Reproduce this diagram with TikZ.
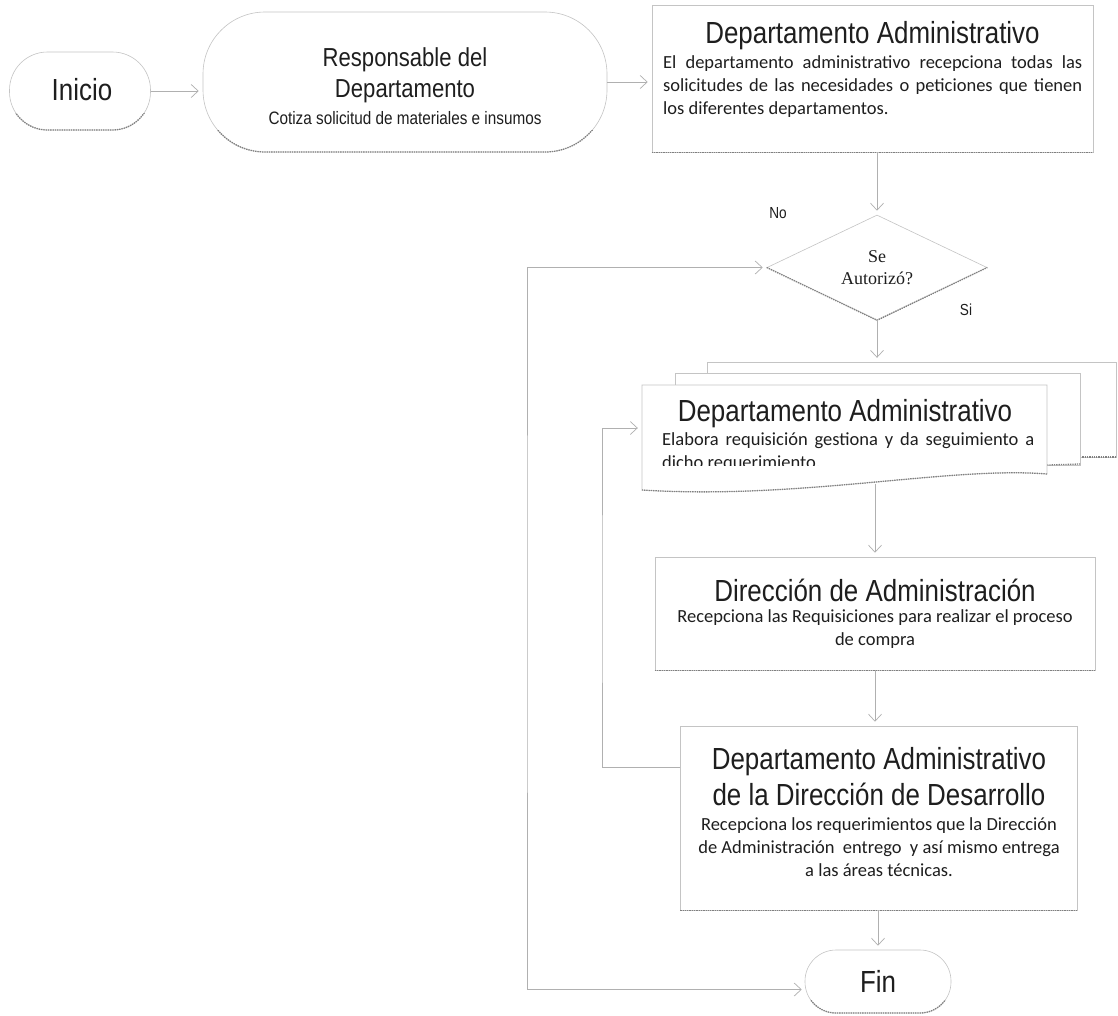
\documentclass[tikz,border=0pt]{standalone}
\usepackage{fontspec}
\setmainfont{Carlito}
\newfontfamily\narrowfont[FakeStretch=0.85]{Liberation Sans}
\newfontfamily\timesfont{Liberation Serif}
\newfontfamily\bodyfont{Carlito}
\usetikzlibrary{arrows.meta,shapes.geometric}
\definecolor{linec}{HTML}{B0B0B0}
\definecolor{edgec}{HTML}{C4C4C4}
\definecolor{shadec}{HTML}{808080}
\definecolor{txt}{HTML}{1E1E1E}
\begin{document}
\begin{tikzpicture}[x=1pt,y=-1pt,
  conn/.style={draw=linec, line width=0.7pt, -{Straight Barb[length=7pt,width=13pt]}, shorten >=4pt},
  connboth/.style={draw=linec, line width=0.7pt, {Straight Barb[length=7pt,width=13pt]}-{Straight Barb[length=7pt,width=13pt]}, shorten >=3pt, shorten <=4pt},
  shapebox/.style={draw=edgec, line width=0.6pt, fill=white, inner sep=0pt},
  ghost/.style={draw=none, inner sep=0pt},
  shadeline/.style={draw=shadec, line width=1.3pt, densely dotted},
  ttl/.style={font=\narrowfont\fontsize{30.5}{34}\selectfont, text=txt, inner sep=0pt},
  ttlm/.style={font=\narrowfont\fontsize{26}{30}\selectfont, text=txt, inner sep=0pt},
  ttls/.style={font=\narrowfont\fontsize{18}{21}\selectfont, text=txt, inner sep=0pt},
  lbl/.style={font=\narrowfont\fontsize{16}{19}\selectfont, text=txt, inner sep=0pt},
  dtx/.style={font=\timesfont\fontsize{18}{21}\selectfont, text=txt, inner sep=0pt},
  bdy/.style={font=\bodyfont\fontsize{18.5}{23}\selectfont, text=txt, inner sep=0pt}
]
\path[use as bounding box, fill=white] (0,0) rectangle (1118,1015);

% ---------- Inicio ----------
\node[shapebox, rounded corners=38pt, minimum width=141pt, minimum height=78pt] (inicio) at (80,91) {};
\begin{scope}
  \clip (0,113) rectangle (200,140);
  \draw[shadeline, rounded corners=38pt] (9.5,52) rectangle (150.5,130);
\end{scope}
\node[ttl, anchor=base] (inicioT) at (82,100) {Inicio};

% ---------- Responsable ----------
\node[shapebox, rounded corners=62pt, minimum width=404pt, minimum height=140pt] (resp) at (405,82) {};
\begin{scope}
  \clip (150,130) rectangle (660,170);
  \draw[shadeline, rounded corners=62pt] (203,12) rectangle (607,152);
\end{scope}
\node[ttlm, anchor=base] (respT1) at (405,66) {Responsable del};
\node[ttlm, anchor=base] (respT2) at (405,97) {Departamento};
\node[ttls, anchor=base] (respT3) at (405,124) {Cotiza solicitud de materiales e insumos};

% ---------- Departamento Administrativo 1 ----------
\node[shapebox, minimum width=441pt, minimum height=147pt] (da1) at (872.5,78.5) {};
\draw[shadeline] (da1.south west) -- (da1.south east);
\node[ttl, anchor=base] (da1T) at (872.5,43) {Departamento Administrativo};
\node[bdy, anchor=base west] (da1L1) at (663,68) {\makebox[419pt][s]{El departamento administrativo recepciona todas las}};
\node[bdy, anchor=base west] (da1L2) at (663,91) {\makebox[419pt][s]{solicitudes de las necesidades o peticiones que tienen}};
\node[bdy, anchor=base west] (da1L3) at (663,114) {los diferentes departamentos.};

% ---------- Decision ----------
\node[diamond, shapebox, minimum width=220pt, minimum height=105pt] (dia) at (877,267.5) {};
\draw[shadeline] (dia.west) -- (dia.south) -- (dia.east);
\node[dtx, anchor=base] (diaT1) at (877,262) {Se};
\node[dtx, anchor=base] (diaT2) at (877,284) {Autorizó?};
\node[lbl, anchor=base] (noL) at (778,218) {No};
\node[lbl, anchor=base] (siL) at (966,315) {Si};

% ---------- Multi-document ----------
\node[ghost, minimum width=409pt, minimum height=95pt] (docb) at (911.5,409.5) {};
\node[ghost, minimum width=405pt, minimum height=93pt] (docm) at (877.5,419.5) {};
\node[ghost, minimum width=405pt, minimum height=100pt] (docf) at (844.5,435) {};
\draw[shapebox] (707,362) -- (1116,362) -- (1116,457) -- (707,457) -- cycle;
\draw[shadeline] (1080,457) -- (1116,457);
\draw[shapebox] (675,373) -- (1080,373) -- (1080,465) -- (675,465) -- cycle;
\draw[shadeline] (1047,465) -- (1080,464);
\draw[shapebox] (642,385) -- (1047,385) -- (1047,474) .. controls (950,466) and (800,500) .. (642,490) -- cycle;
\draw[shadeline] (1047,474) .. controls (950,466) and (800,500) .. (642,490);
\node[ttl, anchor=base] (docT) at (845,421) {Departamento Administrativo};
\node[bdy, anchor=base west] (docL1) at (662,445) {\makebox[372pt][s]{Elabora requisición gestiona y da seguimiento a}};
\begin{scope}
  \clip (642,440) rectangle (1047,465);
  \node[bdy, anchor=base west] (docL2) at (662,468) {dicho requerimiento.};
\end{scope}

% ---------- Dirección de Administración ----------
\node[shapebox, minimum width=440pt, minimum height=113pt] (dir) at (875,613.5) {};
\draw[shadeline] (dir.south west) -- (dir.south east);
\node[ttl, anchor=base] (dirT) at (875,601) {Dirección de Administración};
\node[bdy, anchor=base] (dirL1) at (875,622) {Recepciona las Requisiciones para realizar el proceso};
\node[bdy, anchor=base] (dirL2) at (875,645) {de compra};

% ---------- Departamento Administrativo de la Dirección de Desarrollo ----------
\node[shapebox, minimum width=397pt, minimum height=184pt] (last) at (879,818) {};
\draw[shadeline] (last.south west) -- (last.south east);
\node[ttl, anchor=base] (lastT1) at (879,769) {Departamento Administrativo};
\node[ttl, anchor=base] (lastT2) at (879,805) {de la Dirección de Desarrollo};
\node[bdy, anchor=base] (lastL1) at (879,830) {Recepciona los requerimientos que la Dirección};
\node[bdy, anchor=base] (lastL2) at (879,853) {de Administración\ \ entrego\ \ y así mismo entrega};
\node[bdy, anchor=base] (lastL3) at (879,876) {a las áreas técnicas.};

% ---------- Fin ----------
\node[shapebox, rounded corners=31pt, minimum width=146pt, minimum height=63pt] (fin) at (878,981.5) {};
\begin{scope}
  \clip (780,1000) rectangle (980,1015);
  \draw[shadeline, rounded corners=31pt] (805,950) rectangle (951,1013);
\end{scope}
\node[ttl, anchor=base] (finT) at (878,992) {Fin};

% ---------- Connectors ----------
\coordinate (outerL) at (527,600);
\coordinate (innerL) at (602,600);
\draw[conn] (inicio.east) -- (inicio.east -| resp.west);
\draw[conn] (resp.east) -- (resp.east -| da1.west);
\draw[conn] (dia.north |- da1.south) -- (dia.north);
\draw[conn] (dia.south) -- (dia.south |- docb.north);
\draw[conn] (875,484) -- (dir.north);
\draw[conn] (dir.south) -- (dir.south |- last.north);
\draw[conn] (fin.north |- last.south) -- (fin.north);
\draw[connboth] (dia.west) -| (outerL) |- ([yshift=-8pt]fin.west);
\draw[conn] ([yshift=51pt]last.west) -| (innerL) |- ([yshift=7pt]docf.west);
\end{tikzpicture}
\end{document}
